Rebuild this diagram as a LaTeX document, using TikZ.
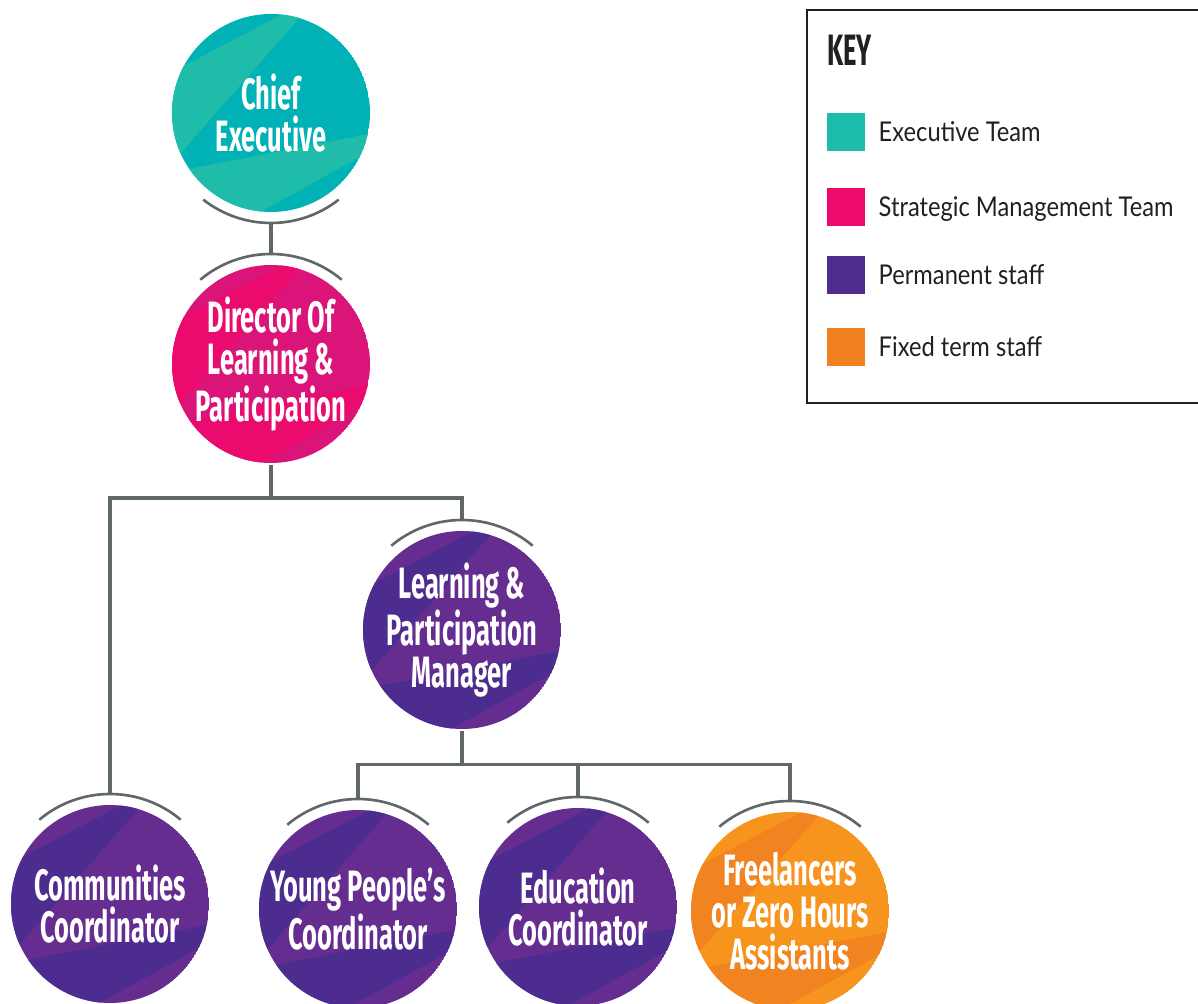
\documentclass[tikz,border=0pt]{standalone}
\usepackage{fontspec}
\setmainfont{Lato}
\newfontfamily\rolefont[FakeStretch=0.58]{Fira Sans}
\newfontfamily\keyfont[FakeStretch=0.87]{Lato}
\usetikzlibrary{positioning,backgrounds}

\definecolor{execdark}{HTML}{00B2B5}
\definecolor{execlight}{HTML}{1FBCA9}
\definecolor{smtdark}{HTML}{DA1479}
\definecolor{smtlight}{HTML}{EB0A6D}
\definecolor{permlight}{HTML}{662D91}
\definecolor{permdark}{HTML}{4C2C8F}
\definecolor{fixedlight}{HTML}{F7941D}
\definecolor{fixeddark}{HTML}{F28321}
\definecolor{keyteal}{HTML}{1DBBAA}
\definecolor{keypink}{HTML}{EC0A6C}
\definecolor{keypurple}{HTML}{4E2D8F}
\definecolor{keyorange}{HTML}{F28120}
\definecolor{linkgray}{HTML}{5F6769}
\definecolor{keyline}{HTML}{231F20}

\tikzset{
  role/.style={circle, minimum size=3.96cm, inner sep=0pt, align=center, text=white,
    font=\rolefont\bfseries\fontsize{25}{24}\selectfont},
  link/.style={draw=linkgray, line width=2pt},
  hook/.style={draw=linkgray, line width=1.5pt},
  swatch/.style={minimum size=0.76cm, inner sep=0pt},
  keytext/.style={inner sep=0pt, text height=11.2pt, text depth=0pt, text=keyline,
    font=\keyfont\fontsize{15.5}{18}\selectfont}
}

\begin{document}
\begin{tikzpicture}
  \useasboundingbox (0,0) rectangle (23.96,20.06);

  \node[role] (ce) at (5.42,17.80) {Chief\\Executive};
  \node[role] (dir) at (5.42,12.78) {Director Of\\Learning \&\\Participation};
  \node[role] (lpm) at (9.24,7.46) {Learning \&\\Participation\\Manager};
  \node[role] (comm) at (2.20,1.98) {Communities\\Coordinator};
  \node[role] (yp) at (7.16,1.88) {Young People’s\\Coordinator};
  \node[role] (edu) at (11.56,1.92) {Education\\Coordinator};
  \node[role] (free) at (15.80,1.84) {Freelancers\\or Zero Hours\\Assistants};

  \begin{scope}[on background layer]
    \foreach \n/\base/\band in {ce/execdark/execlight, dir/smtdark/smtlight,
        lpm/permlight/permdark, comm/permlight/permdark, yp/permlight/permdark,
        edu/permlight/permdark, free/fixedlight/fixeddark} {
      \begin{scope}
        \clip (\n.center) circle (1.98);
        \fill[\base] (\n.center) circle (1.98);
        \begin{scope}[shift={(\n.center)}, scale=1.98]
          \fill[\band] (-1.3,0.257) -- (0.4,1.147) -- (0.498,1.2) -- (-1.083,-0.6) -- (-1.3,-0.6) -- cycle;
          \fill[\band] (-1.2,-0.637) -- (1.2,-0.17) -- (1.2,-0.278) -- (-0.3,-1.106) -- (-1.2,-1.2) -- cycle;
        \end{scope}
      \end{scope}
    }
  \end{scope}

  \coordinate (ce-bottom) at ([yshift=-2.2cm]ce.center);
  \draw[hook] ([shift={(232:2.2)}]ce.center) arc[start angle=232, end angle=308, radius=2.2];
  \foreach \n in {dir,lpm,comm,yp,edu,free} {
    \coordinate (\n-top) at ([yshift=2.2cm]\n.center);
    \draw[hook] ([shift={(130:2.2)}]\n.center) arc[start angle=130, end angle=50, radius=2.2];
  }

  \draw[link] (ce-bottom) -- (dir-top);
  \coordinate (dir-split) at ([yshift=-0.66cm]dir.south);
  \draw[link] (dir.south) -- (dir-split) -| (comm-top);
  \draw[link] (dir-split) -| (lpm-top);
  \coordinate (lpm-split) at ([yshift=-0.67cm]lpm.south);
  \draw[link] (lpm.south) -- (lpm-split) -| (yp-top);
  \draw[link] (lpm-split) -| (edu-top);
  \draw[link] (lpm-split) -| (free-top);

  \draw[keyline, line width=1.1pt] (23.96,19.86) -| (16.14,12.00) -- (23.96,12.00);
  \node[anchor=base west, inner sep=0pt, text=keyline, font=\rolefont\bfseries\fontsize{25}{25}\selectfont] (keytitle) at (16.54,18.74) {KEY};
  \node[swatch, fill=keyteal] (sw-exec) at (16.92,17.42) {};
  \node[swatch, fill=keypink] (sw-smt) at (16.92,15.92) {};
  \node[swatch, fill=keypurple] (sw-perm) at (16.92,14.56) {};
  \node[swatch, fill=keyorange] (sw-fixed) at (16.92,13.12) {};
  \node[keytext, right=0.26cm of sw-exec] (lbl-exec) {Executive Team};
  \node[keytext, right=0.26cm of sw-smt] (lbl-smt) {Strategic Management Team};
  \node[keytext, right=0.26cm of sw-perm] (lbl-perm) {Permanent staff};
  \node[keytext, right=0.26cm of sw-fixed] (lbl-fixed) {Fixed term staff};
\end{tikzpicture}
\end{document}
